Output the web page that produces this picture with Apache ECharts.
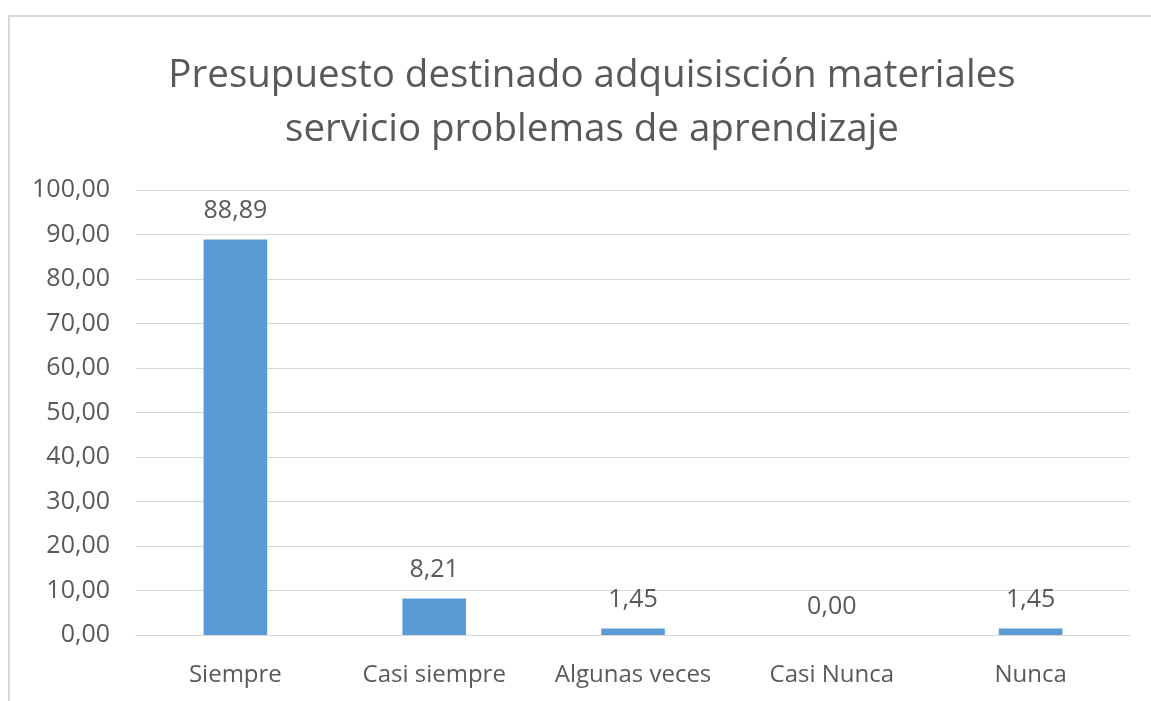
<!DOCTYPE html>
<html>
<head>
<meta charset="utf-8">
<script src="https://cdn.jsdelivr.net/npm/echarts@6/dist/echarts.min.js"></script>
<style>
  html, body { margin: 0; padding: 0; background: #fff; }
  #main { width: 1151px; height: 701px; }
</style>
</head>
<body>
<div id="main"></div>
<script>
// datos del grafico
var categorias = ['Siempre', 'Casi siempre', 'Algunas veces', 'Casi Nunca', 'Nunca'];
var valores = [88.89, 8.21, 1.45, 0.00, 1.45];
var titulo = 'Presupuesto destinado adquisisción materiales\nservicio problemas de aprendizaje';

function coma(v) {
  return Number(v).toFixed(2).replace('.', ',');
}

var myChart = echarts.init(document.getElementById('main'));

var option = {
  backgroundColor: '#fff',
  textStyle: { fontFamily: 'Open Sans' },
  title: {
    text: titulo,
    left: 587,
    top: 44,
    textAlign: 'center',
    textStyle: {
      fontSize: 38.5,
      fontWeight: 'normal',
      color: '#595959',
      lineHeight: 54,
      fontFamily: 'Open Sans'
    }
  },
  graphic: [{
    type: 'rect',
    shape: { x: 9, y: 16, width: 1200, height: 800 },
    style: { fill: 'none', stroke: '#d9d9d9', lineWidth: 2 },
    silent: true
  }],
  grid: { left: 136, right: 21, top: 190, bottom: 66 },
  xAxis: {
    type: 'category',
    data: categorias,
    axisLine: { show: true, lineStyle: { color: '#d9d9d9' } },
    axisTick: { show: false },
    axisLabel: { color: '#595959', fontSize: 24, margin: 28, interval: 0, hideOverlap: false }
  },
  yAxis: {
    type: 'value',
    min: 0,
    max: 100,
    interval: 10,
    axisLine: { show: false },
    axisTick: { show: false },
    splitLine: { lineStyle: { color: '#d9d9d9' } },
    axisLabel: {
      color: '#595959',
      fontSize: 25,
      margin: 26,
      formatter: coma
    }
  },
  series: [{
    type: 'bar',
    data: valores,
    barWidth: '32%',
    itemStyle: { color: '#5b9bd5' },
    label: {
      show: true,
      position: 'top',
      distance: 16,
      color: '#595959',
      fontSize: 25,
      formatter: function (p) { return coma(p.value); }
    }
  }]
};

myChart.setOption(option);
</script>
</body>
</html>
